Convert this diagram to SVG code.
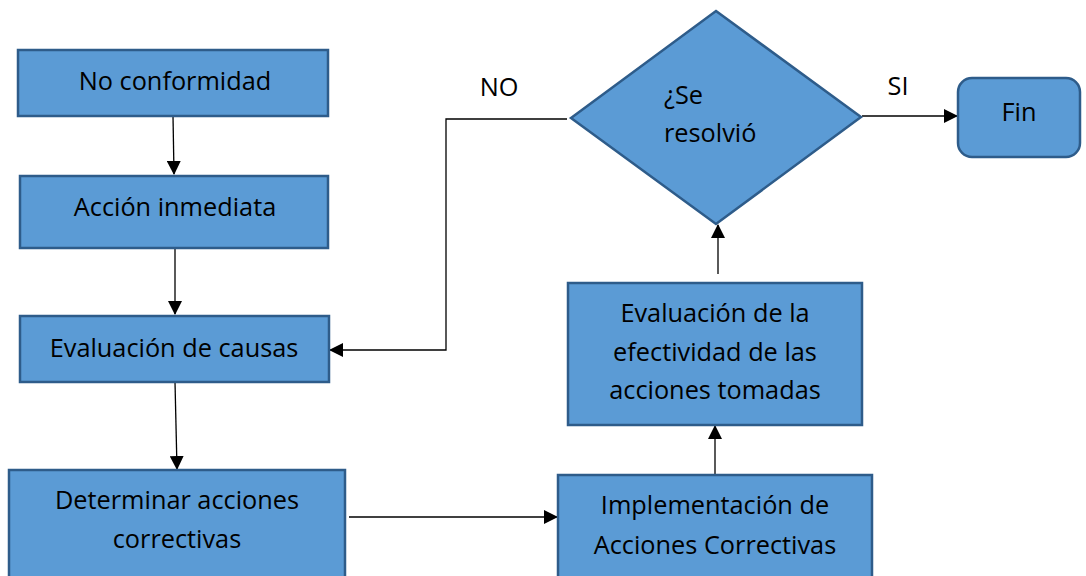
<svg xmlns="http://www.w3.org/2000/svg" width="1086" height="576" viewBox="0 0 1086 576">
<style>
.box{fill:#5B9BD5;stroke:#2E5C8A;stroke-width:2.5}
.t{font-family:"Open Sans","Liberation Sans",sans-serif;font-size:25.3px;fill:#000;text-anchor:middle}
.tl{font-family:"Open Sans","Liberation Sans",sans-serif;font-size:25.3px;fill:#000}
.c{fill:none;stroke:#000;stroke-width:1.3}
</style>
<defs>
<marker id="ah" markerWidth="14" markerHeight="14" refX="13" refY="7" orient="auto" markerUnits="userSpaceOnUse">
<path d="M0,0 L14,7 L0,14 Z" fill="#000"/>
</marker>
</defs>
<rect width="1086" height="576" fill="#fff"/>
<g id="connectors">
<path class="c" d="M173,116 L174,174" marker-end="url(#ah)"/>
<path class="c" d="M175,248 L175,314" marker-end="url(#ah)"/>
<path class="c" d="M175,382 L177,469" marker-end="url(#ah)"/>
<path class="c" d="M349,517 L557,517" marker-end="url(#ah)"/>
<path class="c" d="M715,475 L715,426" marker-end="url(#ah)"/>
<path class="c" d="M718,274 L718,225" marker-end="url(#ah)"/>
<path class="c" d="M862,116 L957,116" marker-end="url(#ah)"/>
<path class="c" d="M567,119 L446,119 L446,350 L330,350" marker-end="url(#ah)"/>
<text class="t" x="499" y="96">NO</text>
<text class="t" x="898" y="95">SI</text>
</g>
<g id="n1"><rect class="box" x="18" y="50" width="310" height="66"/><text class="t" x="175" y="90">No conformidad</text></g>
<g id="n2"><rect class="box" x="20" y="176" width="308" height="72"/><text class="t" x="175" y="216">Acción inmediata</text></g>
<g id="n3"><rect class="box" x="20" y="316" width="309" height="66"/><text class="t" x="174" y="357">Evaluación de causas</text></g>
<g id="n4"><rect class="box" x="9" y="470" width="336" height="112"/><text class="t" x="177" y="509">Determinar acciones</text><text class="t" x="177" y="548">correctivas</text></g>
<g id="n5"><rect class="box" x="558" y="475" width="314" height="107"/><text class="t" x="715" y="514">Implementación de</text><text class="t" x="715" y="554">Acciones Correctivas</text></g>
<g id="n6"><rect class="box" x="568" y="283" width="294" height="142"/><text class="t" x="715" y="322">Evaluación de la</text><text class="t" x="715" y="361">efectividad de las</text><text class="t" x="715" y="399">acciones tomadas</text></g>
<g id="n7"><polygon class="box" points="716,11 861,117 716,224 571,118"/><text class="tl" x="664" y="104">¿Se</text><text class="tl" x="664" y="142">resolvió</text></g>
<g id="n8"><rect class="box" x="958" y="78" width="122" height="79" rx="14"/><text class="t" x="1019" y="121">Fin</text></g>
</svg>
